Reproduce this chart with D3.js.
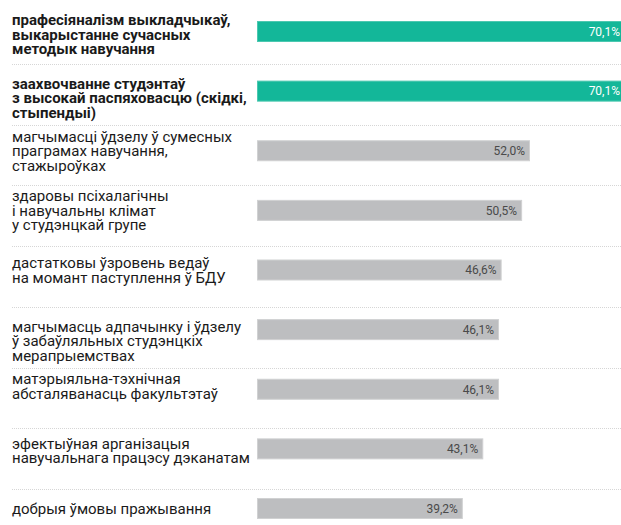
<!DOCTYPE html>
<html><head><meta charset="utf-8">
<script src="https://cdn.jsdelivr.net/npm/d3@7"></script>
<style>html,body{margin:0;padding:0;background:#fff;overflow:hidden}</style>
</head><body>
<svg id="c" width="621" height="525"></svg>
<script>
const categories = [
  ["прафесіяналізм выкладчыкаў,", "выкарыстанне сучасных", "методык навучання"],
  ["заахвочванне студэнтаў", "з высокай паспяховасцю (скідкі,", "стыпендыі)"],
  ["магчымасці ўдзелу ў сумесных", "праграмах навучання,", "стажыроўках"],
  ["здаровы псіхалагічны", "і навучальны клімат", "у студэнцкай групе"],
  ["дастатковы ўзровень ведаў", "на момант паступлення ў БДУ"],
  ["магчымасць адпачынку і ўдзелу", "ў забаўляльных студэнцкіх", "мерапрыемствах"],
  ["матэрыяльна-тэхнічная", "абсталяванасць факультэтаў"],
  ["эфектыўная арганізацыя", "навучальнага працэсу дэканатам"],
  ["добрыя ўмовы пражывання"]
];
const values = [70.1, 70.1, 52.0, 50.5, 46.6, 46.1, 46.1, 43.1, 39.2];
const valueLabels = ["70,1%", "70,1%", "52,0%", "50,5%", "46,6%", "46,1%", "46,1%", "43,1%", "39,2%"];
const highlighted = [true, true, false, false, false, false, false, false, false];

const svg = d3.select("#c");
const W = 621;
const idx = d3.range(values.length);

const x = d3.scaleLinear().domain([0, 100]).range([257, 257 + 525]);
const y = d3.scalePoint().domain(idx).range([21, 498]);
const barH = 21;
const div = d3.scaleLinear().domain([0, 7]).range([64, 489]);
const labelShift = [3, 6.5, 0, 0, 0, 11, -3, 1.5, 0];
const lineH = 14.5;

// dividers
svg.append("g").selectAll("line").data(d3.range(values.length - 1)).join("line")
  .attr("x1", 12).attr("x2", W)
  .attr("y1", d => Math.round(div(d)) + 0.5).attr("y2", d => Math.round(div(d)) + 0.5)
  .attr("stroke", "#d6d6d6").attr("stroke-width", 1).attr("stroke-dasharray", "1,1");

// bars
svg.append("g").selectAll("rect").data(idx).join("rect")
  .attr("x", x(0) + 0.5).attr("y", d => y(d) + 0.5)
  .attr("width", d => x(values[d]) - x(0) - 1).attr("height", barH - 1)
  .attr("fill", d => highlighted[d] ? "#13b799" : "#bdbec0")
  .attr("stroke", d => highlighted[d] ? "#4cc8b0" : "#d0d1d2").attr("stroke-width", 1);

// value labels
svg.append("g").selectAll("text").data(idx).join("text")
  .attr("x", d => x(values[d]) - 5).attr("y", d => y(d) + barH / 2)
  .attr("dy", "0.36em").attr("text-anchor", "end")
  .attr("font-family", "Roboto").attr("font-size", 12)
  .attr("fill", d => highlighted[d] ? "#ffffff" : "#4a4a4a")
  .text(d => valueLabels[d]);

// category labels
const lg = svg.append("g").selectAll("text").data(idx).join("text")
  .attr("font-family", "Roboto").attr("font-size", 15)
  .attr("font-weight", d => highlighted[d] ? 700 : 400)
  .attr("fill", "#1a1a1a");
lg.each(function(d) {
  const lines = categories[d];
  const cy = y(d) + barH / 2 + labelShift[d];
  const top = cy - (lines.length - 1) * lineH / 2;
  d3.select(this).selectAll("tspan").data(lines).join("tspan")
    .attr("x", 12).attr("y", (l, i) => top + i * lineH).attr("dy", "0.36em")
    .text(l => l);
});
</script>
</body></html>
